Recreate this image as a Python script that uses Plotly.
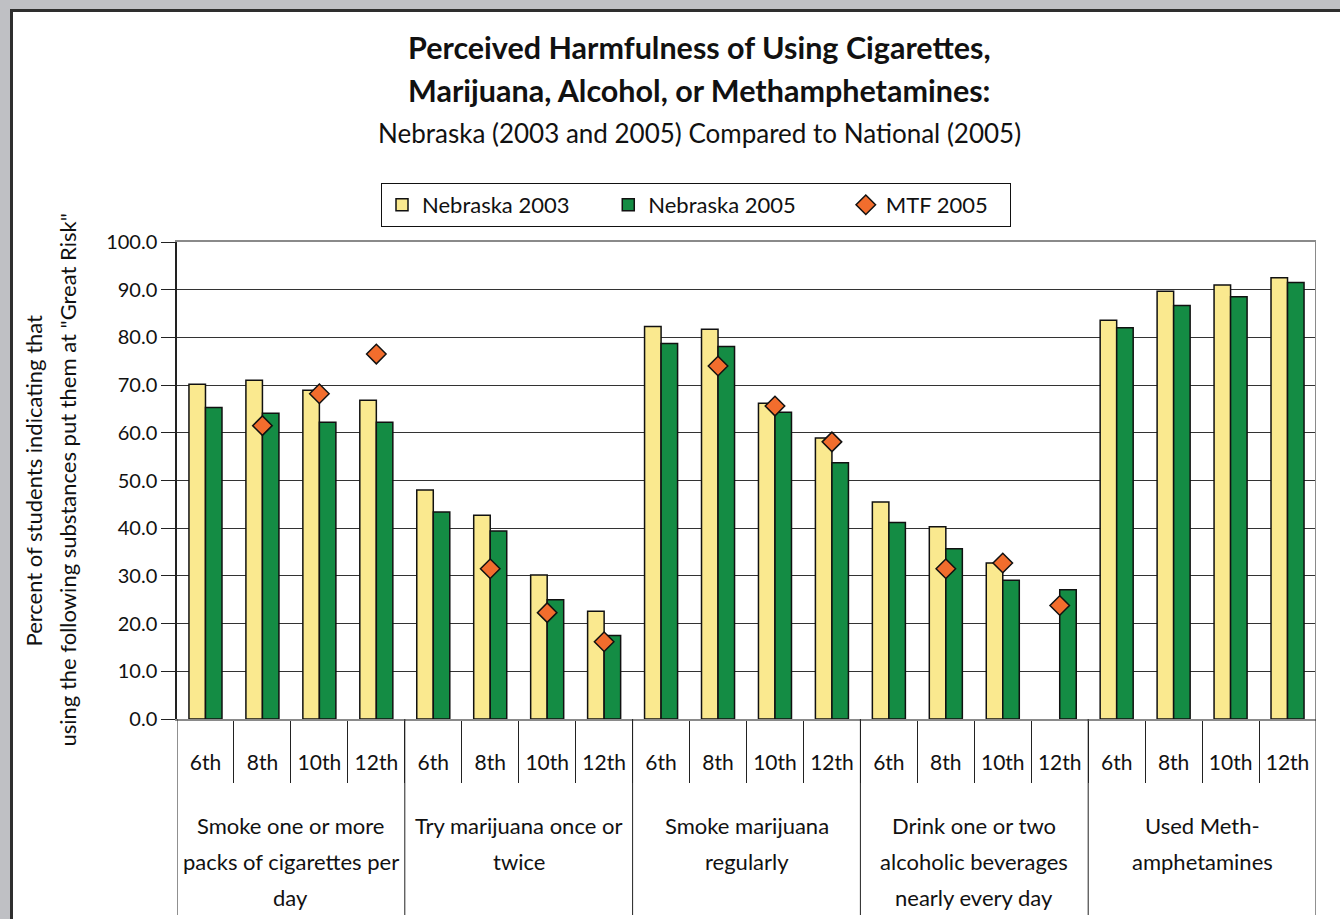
import plotly.graph_objects as go

# ---- data -------------------------------------------------------------
grades = ["6th", "8th", "10th", "12th"]
group_lines = [
    ["Smoke one or more", "packs of cigarettes per", "day"],
    ["Try marijuana once or", "twice"],
    ["Smoke marijuana", "regularly"],
    ["Drink one or two", "alcoholic beverages", "nearly every day"],
    ["Used Meth-", "amphetamines"],
]

nebraska_2003 = [70.2, 71.0, 68.9, 66.8,
                 48.0, 42.7, 30.2, 22.6,
                 82.3, 81.7, 66.2, 58.9,
                 45.5, 40.3, 32.7, None,
                 83.6, 89.7, 91.0, 92.5]
nebraska_2005 = [65.3, 64.1, 62.2, 62.2,
                 43.4, 39.4, 25.0, 17.5,
                 78.7, 78.1, 64.3, 53.7,
                 41.2, 35.7, 29.1, 27.1,
                 82.0, 86.7, 88.5, 91.5]
mtf_2005 = [None, 61.5, 68.2, 76.5,
            None, 31.5, 22.3, 16.2,
            None, 74.0, 65.6, 58.1,
            None, 31.5, 32.7, 23.8,
            None, None, None, None]

y_ticks = [0, 10, 20, 30, 40, 50, 60, 70, 80, 90, 100]

# ---- layout helpers ---------------------------------------------------
W, H = 1340, 919
L, R, T, B = 177, 24, 242, 200
PW, PH = W - L - R, H - T - B

def px_x(px):
    return (px - L) / PW

def px_y(py):
    return (H - B - py) / PH

n_grades = len(grades)
n_groups = len(group_lines)
xpos = list(range(n_groups * n_grades))
tick_text = grades * n_groups

FONT = "Lato"
INK = "#111111"
NBSP = "\u00a0"

fig = go.Figure()
fig.add_trace(go.Bar(
    x=xpos, y=nebraska_2003, name="Nebraska 2003" + NBSP * 6,
    marker=dict(color="#fae98f", line=dict(color=INK, width=1.5)),
))
fig.add_trace(go.Bar(
    x=xpos, y=nebraska_2005, name="Nebraska 2005" + NBSP * 8,
    marker=dict(color="#148c44", line=dict(color=INK, width=1.5)),
))
fig.add_trace(go.Scatter(
    x=xpos, y=mtf_2005, name="MTF 2005" + NBSP * 3, mode="markers",
    marker=dict(symbol="diamond", size=15, color="#f26d2d",
                line=dict(color=INK, width=1.5)),
))

shapes = []
# white chart sheet with a dark top/left edge
shapes.append(dict(type="rect", xref="paper", yref="paper", layer="below",
                   x0=px_x(11), x1=px_x(W), y0=px_y(H), y1=px_y(10),
                   fillcolor="white", line=dict(width=0)))
shapes.append(dict(type="line", xref="paper", yref="paper", layer="below",
                   x0=px_x(11.5), x1=px_x(11.5), y0=px_y(H), y1=px_y(9),
                   line=dict(color="#2e2e2e", width=3)))
shapes.append(dict(type="line", xref="paper", yref="paper", layer="below",
                   x0=px_x(10), x1=px_x(W), y0=px_y(10.5), y1=px_y(10.5),
                   line=dict(color="#2e2e2e", width=3)))
# right edge of plot area
shapes.append(dict(type="line", xref="x", yref="paper",
                   x0=xpos[-1] + 0.5, x1=xpos[-1] + 0.5, y0=0, y1=1,
                   line=dict(color="#8a8a8a", width=2)))
# group dividers below the axis
for g in range(n_groups + 1):
    xb = g * n_grades - 0.5
    shapes.append(dict(type="line", xref="x", yref="paper",
                       x0=xb, x1=xb, y0=0, y1=px_y(915),
                       line=dict(color="#222222", width=1)))

annotations = []
title_lines = [
    ("<b>Perceived Harmfulness of Using Cigarettes,</b>", 47, 30.5),
    ("<b>Marijuana, Alcohol, or Methamphetamines:</b>", 90, 30.5),
    ("Nebraska (2003 and 2005) Compared to National (2005)", 133, 26),
]
for text, yc, size in title_lines:
    annotations.append(dict(text=text, xref="paper", yref="paper",
                            x=px_x(699), y=px_y(yc), xanchor="center",
                            yanchor="middle", showarrow=False,
                            font=dict(family=FONT, size=size, color=INK)))

for g, lines in enumerate(group_lines):
    xc = g * n_grades + (n_grades - 1) / 2
    for k, line in enumerate(lines):
        annotations.append(dict(text=line, xref="x", yref="paper",
                                x=xc, y=px_y(825 + 36 * k), xanchor="center",
                                yanchor="middle", showarrow=False,
                                font=dict(family=FONT, size=22, color=INK)))

ytitle = ["Percent of students indicating that",
          "using the following substances put them at \"Great Risk\""]
for k, line in enumerate(ytitle):
    annotations.append(dict(text=line, xref="paper", yref="paper",
                            x=px_x(33 + 34 * k), y=0.5, textangle=-90,
                            xanchor="center", yanchor="middle", showarrow=False,
                            font=dict(family=FONT, size=22, color=INK)))

fig.update_layout(
    width=W, height=H,
    margin=dict(l=L, r=R, t=T, b=B, pad=0),
    paper_bgcolor="#bfc0c4",
    plot_bgcolor="rgba(0,0,0,0)",
    barmode="group", bargap=0.42, bargroupgap=0,
    font=dict(family=FONT, size=21, color=INK),
    showlegend=True,
    legend=dict(orientation="h", x=px_x(381), y=px_y(183),
                xanchor="left", yanchor="top",
                bgcolor="white", bordercolor=INK, borderwidth=1,
                font=dict(family=FONT, size=22, color=INK),
                itemwidth=30, tracegroupgap=0),
    shapes=shapes,
    annotations=annotations,
    xaxis=dict(
        range=[-0.5, xpos[-1] + 0.5],
        tickmode="array", tickvals=xpos, ticktext=tick_text,
        ticks="", showgrid=False, zeroline=False,
        showline=True, linecolor="#8a8a8a", linewidth=2, mirror=True,
        ticklabelstandoff=24,
        tickfont=dict(family=FONT, size=21, color=INK),
        minor=dict(tickmode="array",
                   tickvals=[i + 0.5 for i in xpos[:-1]],
                   ticks="outside", ticklen=62, tickwidth=1,
                   tickcolor="#222222", showgrid=False),
    ),
    yaxis=dict(
        range=[0, 100], tickmode="array", tickvals=y_ticks,
        ticktext=[f"{v:.1f}" for v in y_ticks],
        ticks="outside", ticklen=14, tickcolor="#222222",
        showgrid=True, gridcolor="#333333", gridwidth=1,
        zeroline=False, showline=True, linecolor="#222222", linewidth=1.5,
        tickfont=dict(family=FONT, size=20, color=INK),
    ),
)

fig.write_html("out.html")
